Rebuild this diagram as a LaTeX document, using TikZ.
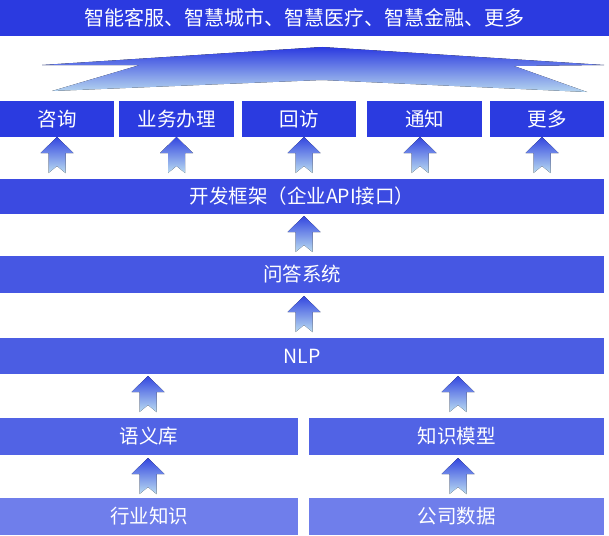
\documentclass[tikz,border=0pt]{standalone}
\usepackage{fontspec}
\setmainfont{Noto Sans CJK SC}
\definecolor{bannerblue}{HTML}{2B3AE0}
\definecolor{rowa}{HTML}{2B3BE0}
\definecolor{rowb}{HTML}{3B4AE1}
\definecolor{rowc}{HTML}{4657E3}
\definecolor{rowd}{HTML}{4B5DE3}
\definecolor{rowe}{HTML}{5163E5}
\definecolor{rowf}{HTML}{6F7EEB}
\definecolor{arrtop}{HTML}{3346E0}
\definecolor{arrbot}{HTML}{BADCF1}
\definecolor{fanbot}{HTML}{B6D6EF}
\begin{document}
\begin{tikzpicture}[x=1pt,y=-1pt,
  bx/.style={anchor=north west,inner sep=0pt,outer sep=0pt,text=white,font=\fontsize{19.5}{22}\selectfont,minimum height=36pt},
  uparr/.pic={\fill[top color=arrtop,bottom color=arrbot] (0,0) -- (16.5,16) -- (8.5,16) -- (8.5,36) -- (0,29) -- (-8.5,36) -- (-8.5,16) -- (-16.5,16) -- cycle;}]
\useasboundingbox (0,0) rectangle (609,535);
\node[bx,fill=bannerblue,minimum width=609pt,font=\fontsize{20}{22}\selectfont] (banner) at (0,0) {智能客服、智慧城市、智慧医疗、智慧金融、更多};
\fill[top color=bannerblue,bottom color=fanbot] (322,47) -- (604,65) -- (514,66) -- (587,92) -- (322,80) -- (52,91) -- (140,65) -- (42,65) -- cycle;
\node[bx,fill=rowa,minimum width=114pt] (zixun) at (0,101) {咨询}; \node[bx,fill=rowa,minimum width=115pt] (banli) at (119,101) {业务办理};
\node[bx,fill=rowa,minimum width=114pt] (huifang) at (242,101) {回访}; \node[bx,fill=rowa,minimum width=115pt] (tongzhi) at (367,101) {通知};
\node[bx,fill=rowa,minimum width=114pt] (gengduo) at (490,101) {更多};
\pic at (57,137) {uparr}; \pic at (176.5,137) {uparr}; \pic at (304,137) {uparr}; \pic at (420,137) {uparr}; \pic at (542,137) {uparr};
\node[bx,fill=rowb,minimum width=604pt,minimum height=35pt] (kaifa) at (0,179) {开发框架（企业API接口）};
\pic at (304,216) {uparr};
\node[bx,fill=rowc,minimum width=604pt,minimum height=37pt] (wenda) at (0,256) {问答系统};
\pic at (304,296) {uparr};
\node[bx,fill=rowd,minimum width=604pt] (nlp) at (0,338) {NLP};
\pic at (148,376) {uparr}; \pic at (458,376) {uparr};
\node[bx,fill=rowe,minimum width=298pt,minimum height=37pt] (yuyi) at (0,418) {语义库}; \node[bx,fill=rowe,minimum width=295pt,minimum height=37pt] (moxing) at (309,418) {知识模型};
\pic at (148,458) {uparr}; \pic at (458,458) {uparr};
\node[bx,fill=rowf,minimum width=298pt,minimum height=37pt] (hangye) at (0,498) {行业知识}; \node[bx,fill=rowf,minimum width=295pt,minimum height=37pt] (gongsi) at (309,498) {公司数据};
\end{tikzpicture}
\end{document}
